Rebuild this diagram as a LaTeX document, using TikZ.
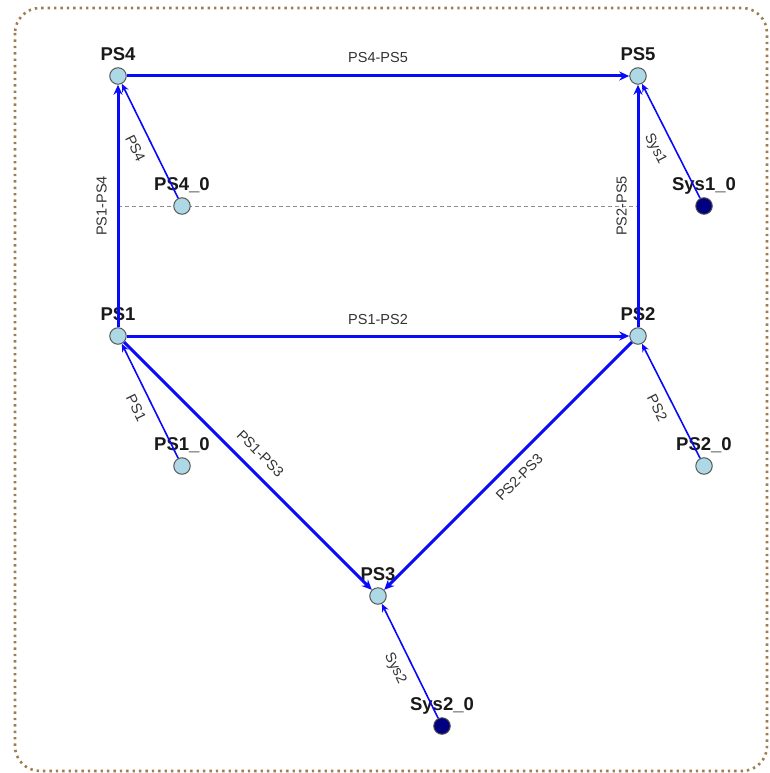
\documentclass[tikz,border=0pt]{standalone}
\usepackage{fontspec}
\setmainfont{Liberation Sans}
\usetikzlibrary{arrows.meta}
\definecolor{psfill}{RGB}{173,216,230}
\definecolor{sysfill}{RGB}{0,0,128}
\definecolor{edgeblue}{RGB}{10,10,250}
\definecolor{framec}{RGB}{160,125,80}
\tikzset{
  psnode/.style={circle, fill=psfill, draw=black!65, line width=1pt, minimum size=16.5pt, inner sep=0pt},
  sysnode/.style={circle, fill=sysfill, draw=black!70, line width=1pt, minimum size=16.5pt, inner sep=0pt},
  nlab/.style={font=\fontsize{18.5}{18.5}\selectfont\bfseries, text=black!90, inner sep=0pt, text height=13.3pt, text depth=0pt, label distance=7pt},
  elab/.style={font=\fontsize{14.5}{14.5}\selectfont, text=black!80, inner sep=0pt, text height=10.5pt, text depth=0pt},
  thickedge/.style={draw=edgeblue, line width=3pt, -{Stealth[length=10pt,width=9pt]}},
  thinedge/.style={draw=edgeblue, line width=1.6pt, -{Stealth[length=8pt,width=7pt]}},
  guide/.style={draw=black!45, line width=1pt, dash pattern=on 4pt off 3pt},
  frame/.style={draw=framec, line width=2.6pt, dash pattern=on 2.4pt off 4pt, rounded corners=25pt}
}
\begin{document}
\begin{tikzpicture}[x=1pt,y=-1pt]
\useasboundingbox (0,0) rectangle (769,773);
\draw[frame] (15,8) rectangle (767,771);
\coordinate (dL) at (118,206);
\coordinate (dR) at (638,206);
\draw[guide] (dL) -- (dR);
\node[psnode, label={[nlab]90:PS4}] (PS4) at (118,76) {};
\node[psnode, label={[nlab]90:PS5}] (PS5) at (638,76) {};
\node[psnode, label={[nlab]90:PS1}] (PS1) at (118,336) {};
\node[psnode, label={[nlab]90:PS2}] (PS2) at (638,336) {};
\node[psnode, label={[nlab]90:PS3}] (PS3) at (378,596) {};
\node[psnode, label={[nlab]90:PS4\_0}] (PS40) at (182,206) {};
\node[sysnode, label={[nlab]90:Sys1\_0}] (S10) at (704,206) {};
\node[psnode, label={[nlab]90:PS1\_0}] (PS10) at (182,466) {};
\node[psnode, label={[nlab]90:PS2\_0}] (PS20) at (704,466) {};
\node[sysnode, label={[nlab]90:Sys2\_0}] (S20) at (442,726) {};
\draw[thickedge] (PS4) -- node[elab, above=11.5pt] {PS4-PS5} (PS5);
\draw[thickedge] (PS1) -- node[elab, above=10pt] {PS1-PS2} (PS2);
\draw[thickedge] (PS1) -- node[elab, sloped, above=10pt] {PS1-PS4} (PS4);
\draw[thickedge] (PS2) -- node[elab, sloped, above=10pt] {PS2-PS5} (PS5);
\draw[thickedge] (PS1) -- node[elab, sloped, above=11pt] {PS1-PS3} (PS3);
\draw[thickedge] (PS2) -- node[elab, sloped, below=9pt] {PS2-PS3} (PS3);
\draw[thinedge] (PS40) -- node[elab, sloped, below=10pt] {PS4} (PS4);
\draw[thinedge] (S10) -- node[elab, sloped, below=10pt] {Sys1} (PS5);
\draw[thinedge] (PS10) -- node[elab, sloped, below=9pt] {PS1} (PS1);
\draw[thinedge] (PS20) -- node[elab, sloped, below=9pt] {PS2} (PS2);
\draw[thinedge] (S20) -- node[elab, sloped, below=9pt] {Sys2} (PS3);
\end{tikzpicture}
\end{document}
